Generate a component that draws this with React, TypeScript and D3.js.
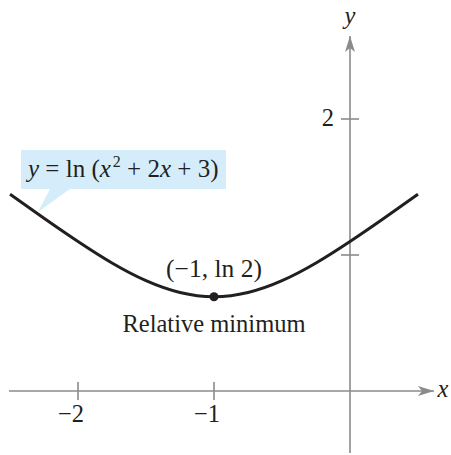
import React, { useEffect, useRef } from "react";
import * as d3 from "d3";

const xValues = [-2.5, -2.25, -2, -1.75, -1.5, -1.25, -1, -0.75, -0.5, -0.25, 0, 0.25, 0.5];
const yValues = [1.447, 1.27, 1.099, 0.941, 0.811, 0.724, 0.693, 0.724, 0.811, 0.941, 1.099, 1.27, 1.447];

const xTicks = [-2, -1];
const xTickLabels = ["\u22122", "\u22121"];
const yTicks = [1, 2];
const yTickLabels = ["", "2"];

const minPoint = { x: -1, y: 0.693 };
const minLabel = "(\u22121, ln 2)";
const minCaption = "Relative minimum";

const W = 451;
const H = 455;
const INK = "#231f20";
const AXIS = "#8b8b8b";
const FONT = "'Liberation Serif', 'DejaVu Serif', serif";

const App = () => {
    const svgRef = useRef<SVGSVGElement>(null);

    useEffect(() => {
        const svg = d3.select(svgRef.current);
        svg.selectAll("*").remove();

        const x = d3.scaleLinear().domain([-2.5, 0.5]).range([10, 418]);
        const y = d3.scaleLinear().domain([0, 2]).range([391, 119]);

        svg.append("rect").attr("width", W).attr("height", H).attr("fill", "#fff");

        // arrow marker
        svg.append("defs").append("marker")
            .attr("id", "arrow")
            .attr("viewBox", "0 0 16 10")
            .attr("refX", 16)
            .attr("refY", 5)
            .attr("markerWidth", 16)
            .attr("markerHeight", 10)
            .attr("markerUnits", "userSpaceOnUse")
            .attr("orient", "auto")
            .append("path")
            .attr("d", "M0,0 L16,5 L0,10 L4,5 Z")
            .attr("fill", AXIS);

        const axes = svg.append("g").attr("stroke", AXIS).attr("stroke-width", 1.6);

        // x axis
        axes.append("line")
            .attr("x1", 9).attr("x2", 434)
            .attr("y1", y(0)).attr("y2", y(0))
            .attr("marker-end", "url(#arrow)");
        // y axis
        axes.append("line")
            .attr("x1", x(0)).attr("x2", x(0))
            .attr("y1", 453).attr("y2", 36)
            .attr("marker-end", "url(#arrow)");

        axes.selectAll(".xt")
            .data(xTicks)
            .enter()
            .append("line")
            .attr("x1", d => x(d)).attr("x2", d => x(d))
            .attr("y1", y(0) - 9).attr("y2", y(0) + 9);

        axes.selectAll(".yt")
            .data(yTicks)
            .enter()
            .append("line")
            .attr("x1", x(0) - 9).attr("x2", x(0) + 9)
            .attr("y1", d => y(d)).attr("y2", d => y(d));

        const text = svg.append("g")
            .attr("font-family", FONT)
            .attr("font-size", 24.5)
            .attr("fill", INK);

        text.selectAll(".xl")
            .data(xTicks)
            .enter()
            .append("text")
            .attr("x", d => x(d) + 6)
            .attr("y", y(0) + 31)
            .attr("text-anchor", "end")
            .text((d, i) => xTickLabels[i]);

        text.selectAll(".yl")
            .data(yTicks)
            .enter()
            .append("text")
            .attr("x", x(0) - 16)
            .attr("y", d => y(d) + 7)
            .attr("text-anchor", "end")
            .text((d, i) => yTickLabels[i]);

        text.append("text")
            .attr("x", 443).attr("y", 397)
            .attr("text-anchor", "middle")
            .attr("font-style", "italic")
            .text("x");
        text.append("text")
            .attr("x", x(0)).attr("y", 24)
            .attr("text-anchor", "middle")
            .attr("font-style", "italic")
            .text("y");

        // callout
        const callout = svg.append("g");
        callout.append("path")
            .attr("d", "M21,150 H226 V189 H70 L38,212 L50,189 H21 Z")
            .attr("fill", "#d5edfa");
        const eq = callout.append("text")
            .attr("x", 28).attr("y", 177)
            .attr("font-family", FONT)
            .attr("font-size", 25)
            .attr("fill", INK);
        eq.append("tspan").attr("font-style", "italic").text("y");
        eq.append("tspan").text(" = ln (");
        eq.append("tspan").attr("font-style", "italic").text("x");
        eq.append("tspan").attr("font-size", 16).attr("dy", -10).attr("dx", 2).text("2");
        eq.append("tspan").attr("dy", 10).text(" + 2");
        eq.append("tspan").attr("font-style", "italic").text("x");
        eq.append("tspan").text(" + 3)");

        // curve
        const pts: [number, number][] = xValues.map((v, i) => [v, yValues[i]]);
        const line = d3.line<[number, number]>()
            .x(d => x(d[0]))
            .y(d => y(d[1]))
            .curve(d3.curveNatural);
        svg.append("path")
            .datum(pts)
            .attr("fill", "none")
            .attr("stroke", INK)
            .attr("stroke-width", 3)
            .attr("d", line);

        svg.append("circle")
            .attr("cx", x(minPoint.x))
            .attr("cy", y(minPoint.y))
            .attr("r", 4.5)
            .attr("fill", INK);

        text.append("text")
            .attr("x", 214).attr("y", 277)
            .attr("font-size", 25.5)
            .attr("text-anchor", "middle")
            .text(minLabel);
        text.append("text")
            .attr("x", 214).attr("y", 332)
            .attr("text-anchor", "middle")
            .text(minCaption);
    }, []);

    return (
        <svg
            ref={svgRef}
            width={W}
            height={H}
            style={{ position: "absolute", left: 0, top: 0 }}
        />
    );
};

export default App;
